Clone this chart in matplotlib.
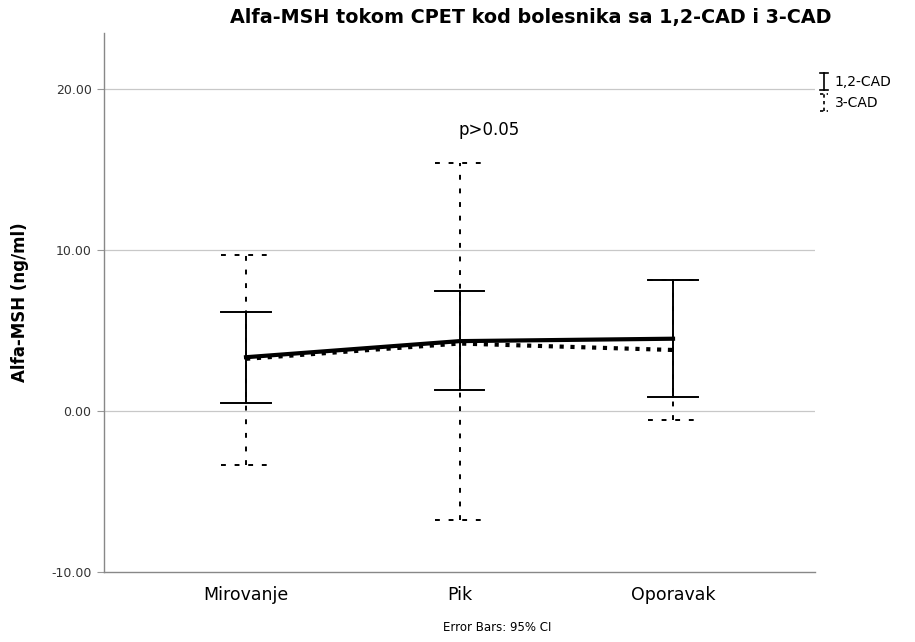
import matplotlib.pyplot as plt
from matplotlib.lines import Line2D

categories = ['Mirovanje', 'Pik', 'Oporavak']

# 1,2-CAD: means with 95% CI bounds
cad12_mean = [3.35, 4.35, 4.5]
cad12_low = [0.5, 1.3, 0.87]
cad12_high = [6.15, 7.45, 8.15]

# 3-CAD: means with 95% CI bounds
cad3_mean = [3.25, 4.2, 3.8]
cad3_low = [-3.35, -6.75, -0.55]
cad3_high = [9.7, 15.4, 8.15]

x = list(range(len(categories)))

fig = plt.figure(figsize=(9.15, 6.42), dpi=100)
ax = fig.add_axes([0.1137, 0.109, 0.777, 0.8396])

for y in [20, 10, 0]:
    ax.axhline(y, color='#c8c8c8', lw=0.9, zorder=0)

def draw_ci(xs, lows, highs, ls, cap=0.115):
    for xi, lo, hi in zip(xs, lows, highs):
        ax.plot([xi, xi], [lo, hi], color='black', lw=1.4, ls=ls, zorder=3)
        ax.plot([xi - cap, xi + cap], [lo, lo], color='black', lw=1.4, ls=ls, zorder=3)
        ax.plot([xi - cap, xi + cap], [hi, hi], color='black', lw=1.4, ls=ls, zorder=3)

draw_ci(x, cad3_low, cad3_high, (0, (2.5, 4.5)))
draw_ci(x, cad12_low, cad12_high, '-')

ax.plot(x, cad3_mean, color='black', lw=3, ls=(0, (1, 1.6)), zorder=4)
ax.plot(x, cad12_mean, color='black', lw=3, zorder=5)

ax.text(1.14, 17.5, 'p>0.05', ha='center', va='center', fontsize=12)

ax.set_xlim(-0.665, 2.665)
ax.set_ylim(-10, 23.5)
ax.set_xticks(x)
ax.set_xticklabels(categories, fontsize=12.5)
ax.set_yticks([-10, 0, 10, 20])
ax.set_yticklabels(['-10.00', '0.00', '10.00', '20.00'], fontsize=9, color='#333333')
ax.tick_params(axis='x', length=0, pad=10)
ax.tick_params(axis='y', length=5, color='#999999', pad=4)
for side in ['top', 'right']:
    ax.spines[side].set_visible(False)
for side in ['left', 'bottom']:
    ax.spines[side].set_color('#888888')
    ax.spines[side].set_linewidth(1.0)

ax.set_ylabel('Alfa-MSH (ng/ml)', fontsize=12, fontweight='bold')
ax.yaxis.set_label_coords(-0.105, 0.5)
fig.text(0.58, 0.972, 'Alfa-MSH tokom CPET kod bolesnika sa 1,2-CAD i 3-CAD',
         ha='center', va='center', fontsize=13.8, fontweight='bold')
fig.text(0.543, 0.022, 'Error Bars: 95% CI', ha='center', va='center', fontsize=8.5)

# legend glyphs outside the axes
def legend_glyph(xc, yc, ls, w=0.004, h=0.013):
    fig.add_artist(Line2D([xc, xc], [yc - h, yc + h], color='black', lw=1.2, ls=ls))
    fig.add_artist(Line2D([xc - w, xc + w], [yc + h, yc + h], color='black', lw=1.2, ls=ls))
    fig.add_artist(Line2D([xc - w, xc + w], [yc - h, yc - h], color='black', lw=1.2, ls=ls))

legend_glyph(0.9005, 0.873, '-')
legend_glyph(0.9005, 0.840, (0, (2, 2)))
fig.text(0.912, 0.873, '1,2-CAD', ha='left', va='center', fontsize=10)
fig.text(0.912, 0.840, '3-CAD', ha='left', va='center', fontsize=10)

fig.savefig('out.png', dpi=100)
